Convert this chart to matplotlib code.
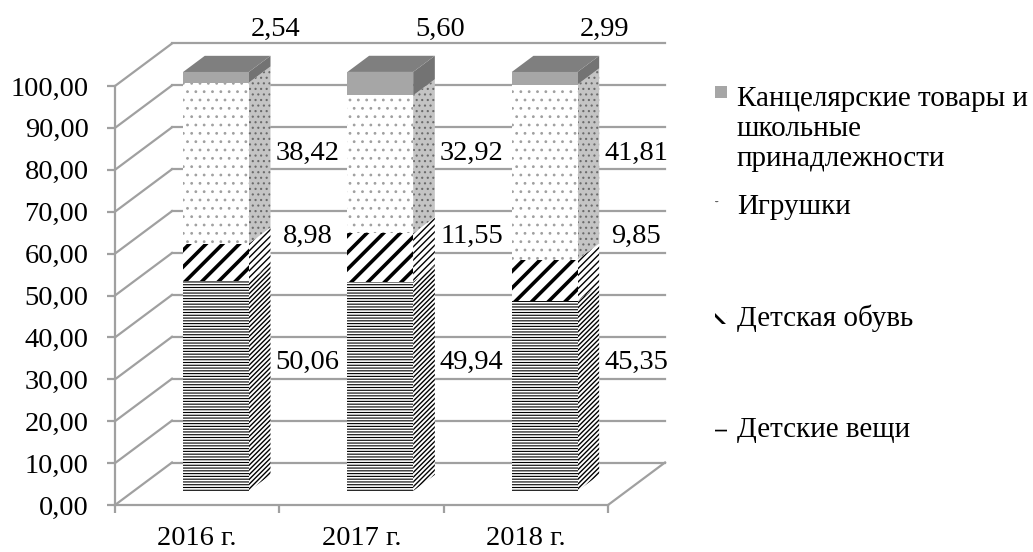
import matplotlib
matplotlib.use('Agg')
import matplotlib.pyplot as plt
import matplotlib.transforms as mtransforms
from matplotlib.patches import Polygon, Rectangle
import numpy as np

# data
years = ['2016 г.', '2017 г.', '2018 г.']
clothes = [50.06, 49.94, 45.35]       # Детские вещи
shoes = [8.98, 11.55, 9.85]           # Детская обувь
toys = [38.42, 32.92, 41.81]          # Игрушки
stationery = [2.54, 5.60, 2.99]       # Канцелярские товары и школьные принадлежности
series_names = ['Детские вещи', 'Детская обувь', 'Игрушки',
                'Канцелярские товары и\nшкольные\nпринадлежности']
y_ticks = np.arange(0, 101, 10)

plt.rcParams['font.family'] = ['Liberation Serif', 'DejaVu Serif']
plt.rcParams['hatch.linewidth'] = 0.8

FS = 20.5
GRID = '#a0a0a0'
DEPTH = np.array([57.0, 42.5])   # pixels, front plane -> back wall
F1, F2 = 0.33, 0.71              # depth fractions of bar front/back
W = 0.40                         # bar width in category units

# (front face, side face) styles per series
styles = [
    (dict(facecolor='white', edgecolor='black', hatch='------'),
     dict(facecolor='white', edgecolor='black', hatch='///////', hlw=1.0)),
    (dict(facecolor='white', edgecolor='black', hatch='//', hlw=2.6),
     dict(facecolor='white', edgecolor='black', hatch='/////', hlw=1.0)),
    (dict(facecolor='white', edgecolor='#a0a0a0', hatch='..'),
     dict(facecolor='#c4c4c4', edgecolor='#6a6a6a', hatch='...')),
    (dict(facecolor='#a6a6a6', edgecolor='#a6a6a6', hatch=None),
     dict(facecolor='#737373', edgecolor='#737373', hatch=None)),
]
TOP_COLOR = '#7f7f7f'

fig = plt.figure(figsize=(10.33, 5.52), dpi=100)
ax = fig.add_axes([115 / 1033, 47 / 552, 493 / 1033, 419 / 552])
ax.set_xlim(-0.5, 2.5)
ax.set_ylim(0, 100)
ax.patch.set_alpha(0)
for s in ['top', 'right']:
    ax.spines[s].set_visible(False)
for s in ['left', 'bottom']:
    ax.spines[s].set_color(GRID)
    ax.spines[s].set_linewidth(1.6)

ax.set_yticks(y_ticks)
ax.set_yticklabels([f'{v:.2f}'.replace('.', ',') for v in y_ticks], fontsize=FS)
ax.set_xticks([-0.5, 0.5, 1.5, 2.5])
ax.set_xticklabels([])
ax.set_xticks(range(len(years)), minor=True)
ax.set_xticklabels(years, minor=True, fontsize=FS)
ax.tick_params(axis='y', length=6, width=1.6, color=GRID, pad=13)
ax.tick_params(axis='x', which='major', length=6, width=1.6, color=GRID)
ax.tick_params(axis='x', which='minor', length=0, pad=15)


def proj(x, y, f):
    p = ax.transData.transform((x, y))
    return p + f * DEPTH * fig.dpi / 100.0


def add_poly(pts, zorder, **kw):
    hlw = kw.pop('hlw', None)
    poly = Polygon(pts, closed=True, transform=mtransforms.IdentityTransform(),
                   linewidth=0, clip_on=False, zorder=zorder, **kw)
    if hlw is not None and hasattr(poly, 'set_hatch_linewidth'):
        poly.set_hatch_linewidth(hlw)
    ax.add_artist(poly)
    return poly


def add_line(p0, p1):
    ax.plot([p0[0], p1[0]], [p0[1], p1[1]], color=GRID, lw=1.6,
            transform=mtransforms.IdentityTransform(), clip_on=False, zorder=1)


fig.canvas.draw()

# walls and floor
x0, x1 = -0.5, 2.5
for v in y_ticks:
    add_line(proj(x0, v, 0), proj(x0, v, 1))
    add_line(proj(x0, v, 1), proj(x1, v, 1))
add_line(proj(x1, 0, 0), proj(x1, 0, 1))

# bars
stack = [clothes, shoes, toys, stationery]
for i in range(len(years)):
    base = 0.0
    for k, vals in enumerate(stack):
        top = base + vals[i]
        xl, xr = i - W / 2, i + W / 2
        front, side = styles[k]
        add_poly([proj(xr, base, F1), proj(xr, base, F2),
                  proj(xr, top, F2), proj(xr, top, F1)], 3, **side)
        add_poly([proj(xl, base, F1), proj(xr, base, F1),
                  proj(xr, top, F1), proj(xl, top, F1)], 4, **front)
        base = top
    add_poly([proj(xl, base, F1), proj(xr, base, F1),
              proj(xr, base, F2), proj(xl, base, F2)], 4,
             facecolor=TOP_COLOR, edgecolor=TOP_COLOR)

# value labels
label_levels = [34, 64, 84, 113.4]
label_dx = [37, 37, 37, 5]
for i in range(len(years)):
    for k, vals in enumerate(stack):
        tr = ax.transData + mtransforms.ScaledTranslation(
            (F2 * DEPTH[0] + label_dx[k]) / 100.0, 0, fig.dpi_scale_trans)
        ax.text(i + W / 2, label_levels[k], f'{vals[i]:.2f}'.replace('.', ','),
                transform=tr, ha='center', va='center', fontsize=FS,
                zorder=6, clip_on=False)

# legend (drawn by hand, Excel style)
leg_y = [430, 318, 207, 129]
swatch_y = [430, 318, 207, 92]
swatch_h = [9, 12, 12, 12]
leg_hatch = [
    dict(facecolor='white', edgecolor='black', hatch='---', hlw=1.2),
    dict(facecolor='white', edgecolor='black', hatch='\\\\', hlw=2.0),
    dict(facecolor='white', edgecolor='#606060', hatch='.'),
    dict(facecolor='#a6a6a6', edgecolor='#a6a6a6', hatch=None),
]
for k, name in enumerate(series_names):
    kw = dict(leg_hatch[k])
    hlw = kw.pop('hlw', None)
    h = swatch_h[k]
    r = Rectangle((715 / 1033, (552 - swatch_y[k] - h / 2) / 552), 12 / 1033, h / 552,
                  transform=fig.transFigure, linewidth=0, **kw)
    if hlw is not None and hasattr(r, 'set_hatch_linewidth'):
        r.set_hatch_linewidth(hlw)
    fig.add_artist(r)
    fig.text(737 / 1033, (552 - leg_y[k]) / 552, name, fontsize=21,
             ha='left', va='center')

fig.savefig('out.png', dpi=100)
plt.close(fig)
